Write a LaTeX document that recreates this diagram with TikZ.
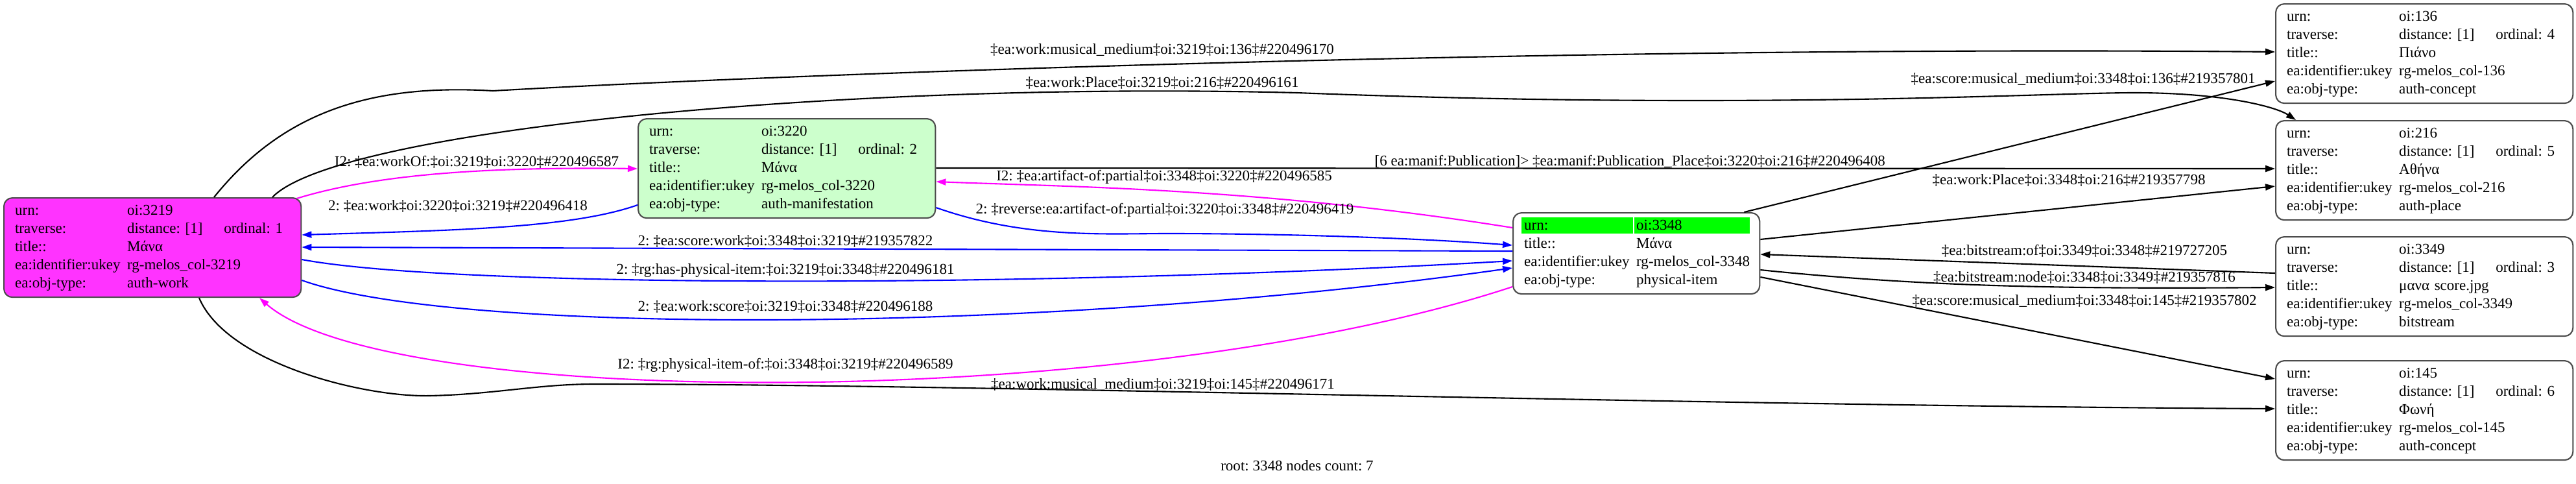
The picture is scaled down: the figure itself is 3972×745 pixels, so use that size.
\documentclass[tikz,border=0pt]{standalone}
\usepackage{fontspec}
\setmainfont{Liberation Serif}
\usetikzlibrary{arrows.meta,calc,backgrounds}
\frenchspacing

\definecolor{workpink}{RGB}{255,51,255}
\definecolor{manifgreen}{RGB}{204,255,204}
\definecolor{rootgreen}{RGB}{0,255,0}
\definecolor{invpink}{RGB}{255,0,255}
\definecolor{fwdblue}{RGB}{0,0,255}

\newcommand{\trav}[2]{\makebox[1.49cm][l]{distance: [#1]}ordinal: #2}

\tikzset{
  rec/.style={draw=black!70, line width=0.6pt, rounded corners=0.13cm, anchor=north west,
    inner xsep=0.17cm, inner ysep=0pt, text width=4.24cm, align=left,
    minimum height=1.53cm, font=\fontsize{6.55}{7.97}\selectfont},
  recroot/.style={rec, text width=3.46cm, minimum height=1.25cm},
  lbl/.style={inner sep=0pt, font=\fontsize{6.55}{7.97}\selectfont},
  rel/.style={line width=0.6pt, -{Triangle[length=0.15cm,width=0.1cm]}},
}

\begin{document}
\begin{tikzpicture}[x=0.01cm,y=-0.01cm]

\begin{scope}[on background layer]
\path[fill=white,use as bounding box] (0,0) rectangle (3972,745);
\end{scope}

\node[rec,fill=workpink] (n3219) at (5,304) {\begin{tabular}{@{}p{1.73cm}@{}l@{}}
urn: & oi:3219\\
traverse: & \trav{1}{1}\\
title:: & Μάνα\\
ea:identifier:ukey & rg-melos\_col-3219\\
ea:obj-type: & auth-work
\end{tabular}};

\node[rec,fill=manifgreen] (n3220) at (983,182) {\begin{tabular}{@{}p{1.73cm}@{}l@{}}
urn: & oi:3220\\
traverse: & \trav{1}{2}\\
title:: & Μάνα\\
ea:identifier:ukey & rg-melos\_col-3220\\
ea:obj-type: & auth-manifestation
\end{tabular}};

\node[recroot] (n3348) at (2332,327) {\begin{tabular}{@{}p{1.73cm}@{}l@{}}
urn: & oi:3348\\
title:: & Μάνα\\
ea:identifier:ukey & rg-melos\_col-3348\\
ea:obj-type: & physical-item
\end{tabular}};

\node[rec] (n136) at (3508,5) {\begin{tabular}{@{}p{1.73cm}@{}l@{}}
urn: & oi:136\\
traverse: & \trav{1}{4}\\
title:: & Πιάνο\\
ea:identifier:ukey & rg-melos\_col-136\\
ea:obj-type: & auth-concept
\end{tabular}};

\node[rec] (n216) at (3508,185) {\begin{tabular}{@{}p{1.73cm}@{}l@{}}
urn: & oi:216\\
traverse: & \trav{1}{5}\\
title:: & Αθήνα\\
ea:identifier:ukey & rg-melos\_col-216\\
ea:obj-type: & auth-place
\end{tabular}};

\node[rec] (n3349) at (3508,364) {\begin{tabular}{@{}p{1.73cm}@{}l@{}}
urn: & oi:3349\\
traverse: & \trav{1}{3}\\
title:: & μανα score.jpg\\
ea:identifier:ukey & rg-melos\_col-3349\\
ea:obj-type: & bitstream
\end{tabular}};

\node[rec] (n145) at (3508,555) {\begin{tabular}{@{}p{1.73cm}@{}l@{}}
urn: & oi:145\\
traverse: & \trav{1}{6}\\
title:: & Φωνή\\
ea:identifier:ukey & rg-melos\_col-145\\
ea:obj-type: & auth-concept
\end{tabular}};

\begin{scope}[on background layer]
\fill[rootgreen] ($(n3348.north west)+(14,8)$) rectangle ++(172,25);
\fill[rootgreen] ($(n3348.north west)+(188,8)$) rectangle ++(178,25);
\end{scope}

\draw[rel] ($(n3219.north west)+(325,0)$) .. controls (430,180) and (560,128) .. (760,140)
  .. controls (1200,115) and (2400,70) .. ($(n136.north west)+(0,75)$);
\draw[rel] ($(n3219.north west)+(415,0)$) .. controls (520,200) and (1300,125) .. (2000,143)
  .. controls (2700,170) and (3150,143) .. (3291,143)
  .. controls (3430,143) and (3510,165) .. ($(n216.north west)+(32,0)$);
\draw[rel,color=invpink] ($(n3219.north east)+(-8,2)$) .. controls (600,262) and (800,258) .. ($(n3220.north west)+(0,78)$);
\draw[rel,color=fwdblue] ($(n3220.north west)+(0,134)$) .. controls (880,352) and (700,355) .. ($(n3219.north east)+(0,58)$);
\draw[rel] ($(n3220.north east)+(0,77)$) -- ($(n216.north west)+(0,75)$);
\draw[rel,color=invpink] ($(n3348.north west)+(0,24)$) .. controls (1950,290) and (1650,288) .. ($(n3220.north east)+(0,98)$);
\draw[rel,color=fwdblue] ($(n3220.north east)+(0,138)$) .. controls (1580,368) and (1700,360) .. (1800,360)
  .. controls (2000,360) and (2200,368) .. ($(n3348.north west)+(0,51)$);
\draw[rel,color=fwdblue] ($(n3348.north west)+(0,60)$) -- ($(n3219.north east)+(0,77)$);
\draw[rel,color=fwdblue] ($(n3219.north east)+(0,96)$) .. controls (700,444) and (1600,444) .. ($(n3348.north west)+(0,75)$);
\draw[rel,color=fwdblue] ($(n3219.north east)+(0,128)$) .. controls (700,516) and (1600,516) .. ($(n3348.north west)+(0,86)$);
\draw[rel,color=invpink] ($(n3348.north west)+(0,115)$) .. controls (1750,634) and (600,634) .. ($(n3219.south west)+(395,0)$);
\draw[rel] ($(n3219.south west)+(302,0)$) .. controls (350,560) and (560,612) .. (662,610)
  .. controls (760,608) and (830,592) .. (916,592)
  .. controls (1500,592) and (2600,625) .. ($(n145.north west)+(0,75)$);
\draw[rel] ($(n3348.north east)+(-25,0)$) -- ($(n136.north west)+(0,120)$);
\draw[rel] ($(n3348.north east)+(0,42)$) -- ($(n216.north west)+(0,102)$);
\draw[rel] ($(n3349.north west)+(0,57)$) -- ($(n3348.north east)+(0,65)$);
\draw[rel] ($(n3348.north east)+(0,89)$) .. controls (2950,440) and (3150,446) .. ($(n3349.north west)+(0,79)$);
\draw[rel] ($(n3348.north east)+(0,100)$) -- ($(n145.north west)+(0,29)$);

\node[lbl] (l136a) at (1792,77) {‡ea:work:musical\_medium‡oi:3219‡oi:136‡\#220496170};
\node[lbl] (l216a) at (1792,128) {‡ea:work:Place‡oi:3219‡oi:216‡\#220496161};
\node[lbl] (lworkof) at (735,250) {I2: ‡ea:workOf:‡oi:3219‡oi:3220‡\#220496587};
\node[lbl] (lwork) at (706,318) {2: ‡ea:work‡oi:3220‡oi:3219‡\#220496418};
\node[lbl,anchor=west] (lpub) at (2119,249) {[6 ea:manif:Publication]> ‡ea:manif:Publication\_Place‡oi:3220‡oi:216‡\#220496408};
\node[lbl] (l136b) at (3212,122) {‡ea:score:musical\_medium‡oi:3348‡oi:136‡\#219357801};
\node[lbl] (l216b) at (3190,278) {‡ea:work:Place‡oi:3348‡oi:216‡\#219357798};
\node[lbl] (lartof) at (1795,273) {I2: ‡ea:artifact-of:partial‡oi:3348‡oi:3220‡\#220496585};
\node[lbl] (lrev) at (1796,324) {2: ‡reverse:ea:artifact-of:partial‡oi:3220‡oi:3348‡\#220496419};
\node[lbl] (lscwork) at (1211,372) {2: ‡ea:score:work‡oi:3348‡oi:3219‡\#219357822};
\node[lbl] (lhaspi) at (1211,417) {2: ‡rg:has-physical-item:‡oi:3219‡oi:3348‡\#220496181};
\node[lbl] (lwkscore) at (1211,473) {2: ‡ea:work:score‡oi:3219‡oi:3348‡\#220496188};
\node[lbl] (lpiof) at (1211,563) {I2: ‡rg:physical-item-of:‡oi:3348‡oi:3219‡\#220496589};
\node[lbl] (l145a) at (1793,593) {‡ea:work:musical\_medium‡oi:3219‡oi:145‡\#220496171};
\node[lbl] (lbsof) at (3214,387) {‡ea:bitstream:of‡oi:3349‡oi:3348‡\#219727205};
\node[lbl] (lbsnode) at (3214,428) {‡ea:bitstream:node‡oi:3348‡oi:3349‡\#219357816};
\node[lbl] (l145b) at (3214,464) {‡ea:score:musical\_medium‡oi:3348‡oi:145‡\#219357802};
\node[lbl] (root) at (2000,718) {root: 3348 nodes count: 7};

\end{tikzpicture}
\end{document}
